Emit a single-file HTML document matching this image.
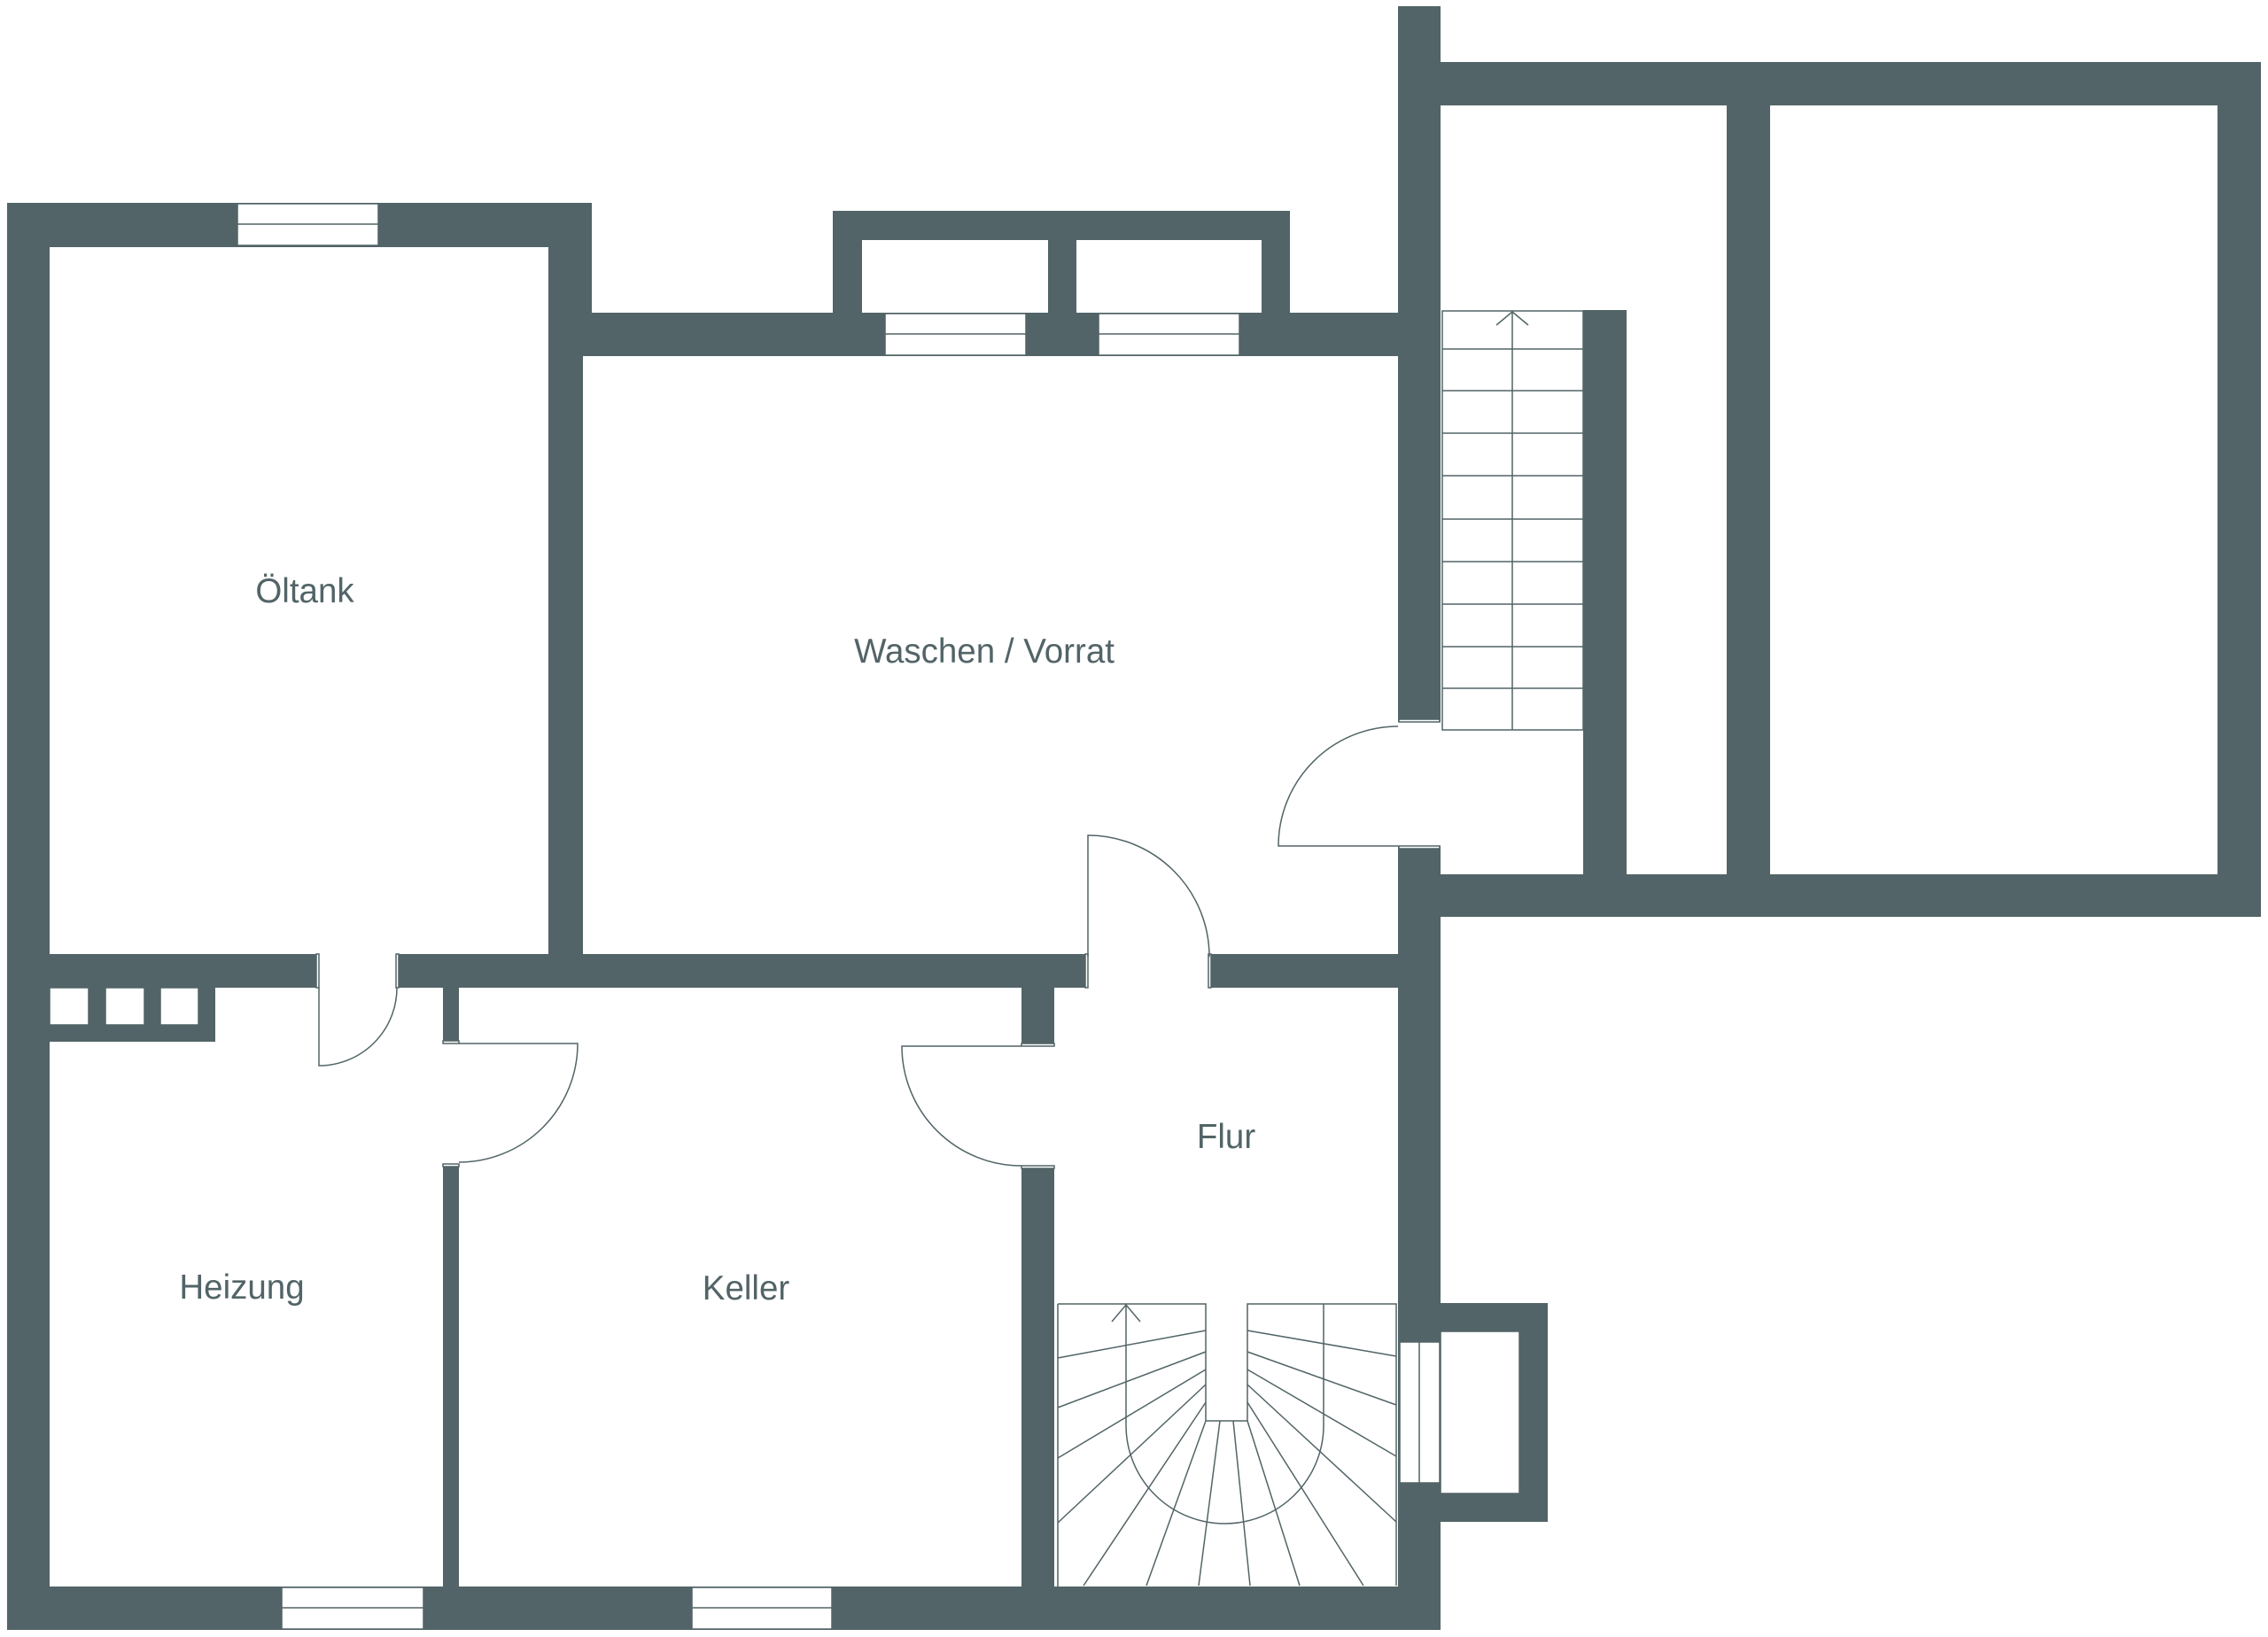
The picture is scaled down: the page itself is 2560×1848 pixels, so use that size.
<!DOCTYPE html>
<html><head><meta charset="utf-8"><style>html,body{margin:0;padding:0;background:#fff}svg{display:block}</style></head><body>
<svg width="2560" height="1848" viewBox="0 0 2560 1848" xmlns="http://www.w3.org/2000/svg">
<g fill="#526467">
<rect x="8" y="229" width="660" height="50"/>
<rect x="619" y="229" width="49" height="124"/>
<rect x="619" y="353" width="39" height="724"/>
<rect x="8" y="229" width="48" height="1611"/>
<rect x="619" y="353" width="1007" height="49"/>
<rect x="940" y="238" width="516" height="33"/>
<rect x="940" y="238" width="33" height="118"/>
<rect x="1183" y="238" width="32" height="118"/>
<rect x="1424" y="238" width="32" height="118"/>
<rect x="1578" y="7" width="48" height="808"/>
<rect x="1578" y="955" width="48" height="885"/>
<rect x="1626" y="70" width="926" height="49"/>
<rect x="2503" y="70" width="49" height="965"/>
<rect x="1949" y="119" width="49" height="868"/>
<rect x="1787" y="350" width="49" height="637"/>
<rect x="1578" y="987" width="974" height="48"/>
<rect x="8" y="1077" width="352" height="38"/>
<rect x="448" y="1077" width="780" height="38"/>
<rect x="1364" y="1077" width="214" height="38"/>
<rect x="56" y="1115" width="187" height="61"/>
<rect x="500" y="1115" width="18" height="63"/>
<rect x="500" y="1314" width="18" height="477"/>
<rect x="1153" y="1115" width="37" height="66"/>
<rect x="1153" y="1316" width="37" height="475"/>
<rect x="8" y="1791" width="1618" height="49"/>
<rect x="1626" y="1471" width="121" height="247"/>
</g>
<g fill="#fff" stroke="#526467" stroke-width="1.5">
<rect x="56" y="1115" width="44" height="42"/>
<rect x="119" y="1115" width="44" height="42"/>
<rect x="181" y="1115" width="43" height="42"/>
<rect x="1626" y="1503" width="89" height="183"/>
<rect x="268" y="230" width="159" height="47"/>
<rect x="999" y="354" width="159" height="47"/>
<rect x="1240" y="354" width="159" height="47"/>
<rect x="318" y="1792" width="160" height="47"/>
<rect x="781" y="1792" width="158" height="47"/>
<rect x="1580" y="1515" width="45" height="159"/>
<rect x="973" y="271" width="210" height="82" stroke="none"/>
<rect x="1215" y="271" width="209" height="82" stroke="none"/>
<rect x="357" y="1077" width="3" height="38"/>
<rect x="447" y="1077" width="3" height="38"/>
<rect x="1225" y="1077" width="3" height="38"/>
<rect x="1364" y="1077" width="3" height="38"/>
<rect x="500" y="1175" width="18" height="3"/>
<rect x="500" y="1314" width="18" height="3"/>
<rect x="1153" y="1178" width="37" height="3"/>
<rect x="1153" y="1316" width="37" height="3"/>
<rect x="1579" y="812" width="46" height="3"/>
<rect x="1579" y="955" width="46" height="3"/>
</g>
<g stroke="#526467" stroke-width="1.5" fill="none">
<line x1="268" y1="253" x2="427" y2="253"/>
<line x1="999" y1="377" x2="1158" y2="377"/>
<line x1="1240" y1="377" x2="1399" y2="377"/>
<line x1="318" y1="1815" x2="478" y2="1815"/>
<line x1="781" y1="1815" x2="939" y2="1815"/>
<line x1="1602" y1="1515" x2="1602" y2="1674"/>
<path d="M360 1115 V1203 A88 88 0 0 0 448 1115"/>
<path d="M1228 1080 V943 A137 137 0 0 1 1365 1080 V1077"/>
<path d="M1578 955 H1443 A135 135 0 0 1 1578 820"/>
<path d="M518 1178 H652 A134 134 0 0 1 518 1312"/>
<path d="M1153 1181 H1018 A135 135 0 0 0 1153 1316"/>
<rect x="1628" y="351" width="159" height="473"/>
<line x1="1707" y1="352" x2="1707" y2="824"/>
<path d="M1689 367 L1707 352 L1725 367"/>
<line x1="1628" y1="394" x2="1787" y2="394"/>
<line x1="1628" y1="441" x2="1787" y2="441"/>
<line x1="1628" y1="489" x2="1787" y2="489"/>
<line x1="1628" y1="537" x2="1787" y2="537"/>
<line x1="1628" y1="586" x2="1787" y2="586"/>
<line x1="1628" y1="634" x2="1787" y2="634"/>
<line x1="1628" y1="682" x2="1787" y2="682"/>
<line x1="1628" y1="730" x2="1787" y2="730"/>
<line x1="1628" y1="777" x2="1787" y2="777"/>
<path d="M1194 1472 H1361 V1604 H1408 V1472 H1576 V1790"/>
<line x1="1194" y1="1472" x2="1194" y2="1791"/>
<line x1="1494" y1="1472" x2="1494" y2="1609"/>
<path d="M1271 1472 V1609 A111.5 111 0 0 0 1494 1609"/>
<path d="M1255 1492 L1271 1473 L1287 1492"/>
<line x1="1377" y1="1604" x2="1353" y2="1790"/>
<line x1="1392" y1="1604" x2="1411" y2="1790"/>
<line x1="1361" y1="1502" x2="1194" y2="1533"/>
<line x1="1361" y1="1526" x2="1194" y2="1589"/>
<line x1="1361" y1="1546" x2="1194" y2="1646"/>
<line x1="1361" y1="1563" x2="1194" y2="1719"/>
<line x1="1361" y1="1583" x2="1223" y2="1790"/>
<line x1="1361" y1="1604" x2="1294" y2="1790"/>
<line x1="1408" y1="1604" x2="1467" y2="1790"/>
<line x1="1408" y1="1583" x2="1539" y2="1790"/>
<line x1="1408" y1="1563" x2="1576" y2="1718"/>
<line x1="1408" y1="1546" x2="1576" y2="1644"/>
<line x1="1408" y1="1526" x2="1576" y2="1586"/>
<line x1="1408" y1="1502" x2="1576" y2="1531"/>
</g>
<g fill="#526467" font-family="Liberation Sans, sans-serif" font-size="38.5" text-anchor="middle">
<text x="344" y="680">Öltank</text>
<text x="1111" y="748">Waschen / Vorrat</text>
<text x="273" y="1466">Heizung</text>
<text x="842" y="1467">Keller</text>
<text x="1384" y="1296">Flur</text>
</g>
</svg>
</body></html>
